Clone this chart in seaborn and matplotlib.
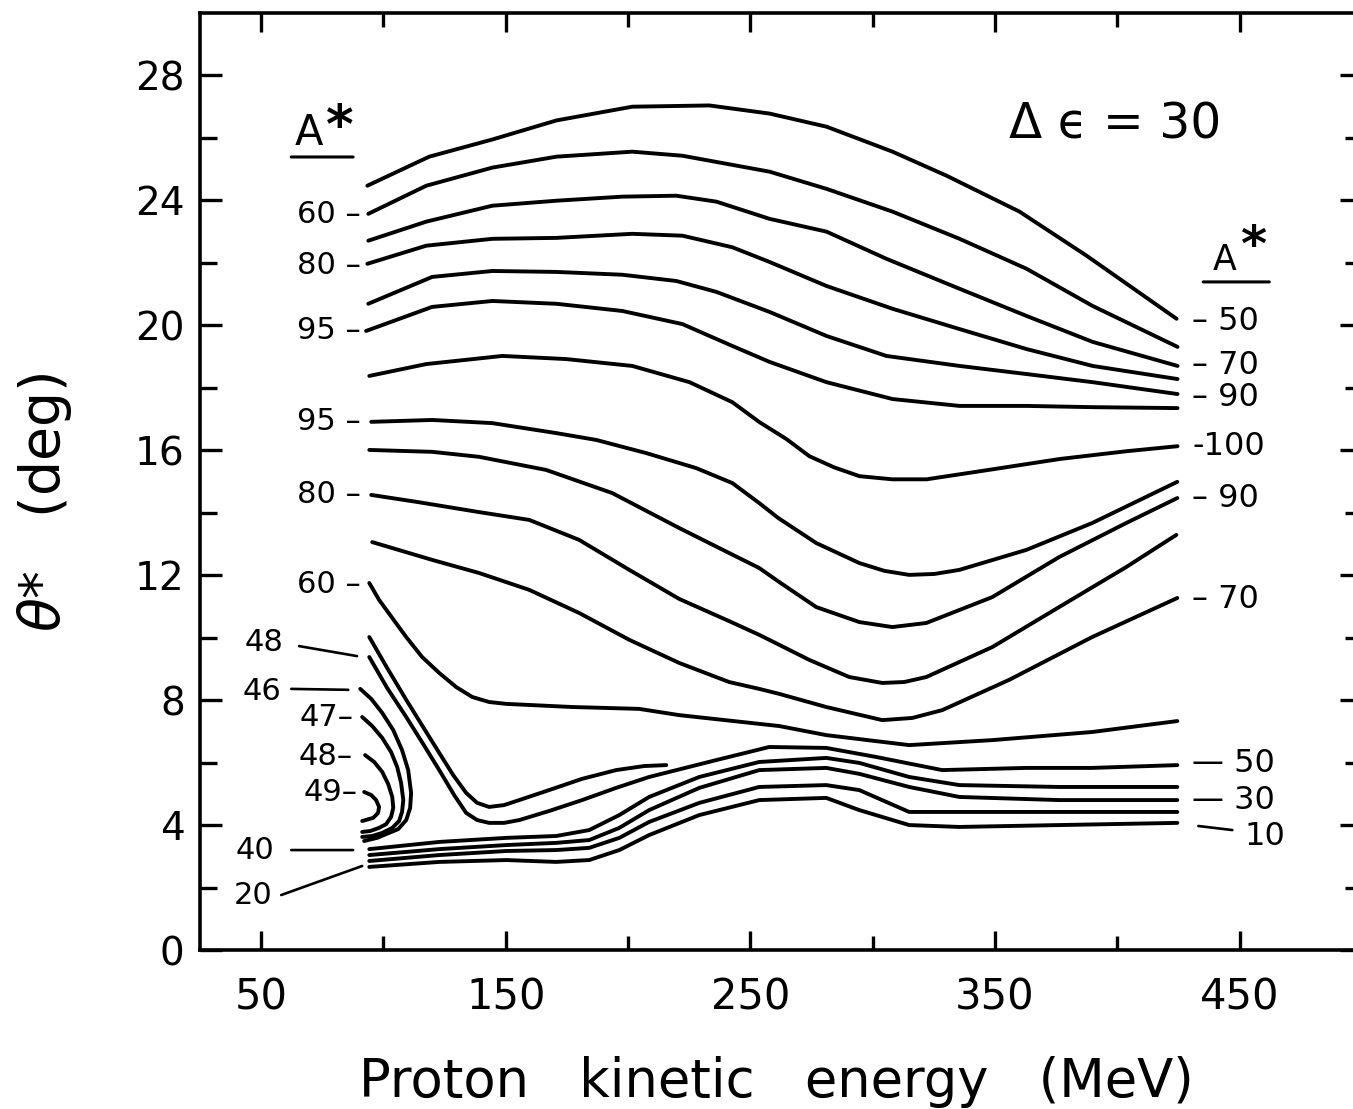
import matplotlib
matplotlib.use("Agg")
import matplotlib.pyplot as plt
import pandas as pd
import seaborn as sns

# A* contours, energy in MeV, theta* in deg
# upper family, top to bottom at the left edge
u01_e = [93.4, 118.7, 144.5, 170.7, 201.7, 233.2, 257.8, 281.1, 308.1, 330.2, 360.0, 387.4, 424.2]
u01_t = [24.47, 25.40, 25.95, 26.56, 27.00, 27.04, 26.78, 26.36, 25.56, 24.79, 23.64, 22.23, 20.21]

u02_e = [93.8, 117.5, 144.5, 170.7, 201.7, 222.2, 257.8, 281.1, 308.1, 335.5, 362.9, 389.9, 424.6]
u02_t = [23.57, 24.47, 25.05, 25.40, 25.56, 25.43, 24.92, 24.37, 23.64, 22.77, 21.81, 20.62, 19.31]

u03_e = [93.8, 117.5, 144.5, 170.7, 197.6, 219.7, 236.1, 257.8, 281.1, 305.6, 335.5, 362.9, 389.9, 424.6]
u03_t = [22.71, 23.32, 23.83, 23.99, 24.12, 24.15, 23.96, 23.41, 23.00, 22.13, 21.17, 20.30, 19.47, 18.70]

u04_e = [93.4, 117.5, 144.5, 170.7, 201.7, 222.2, 242.6, 257.8, 281.1, 308.1, 335.5, 362.9, 389.9, 424.6]
u04_t = [21.97, 22.55, 22.77, 22.80, 22.93, 22.87, 22.50, 22.03, 21.26, 20.53, 19.88, 19.24, 18.70, 18.28]

u05_e = [93.8, 119.9, 144.5, 170.7, 197.6, 219.7, 236.1, 257.8, 281.1, 305.6, 335.5, 362.9, 389.9, 424.6]
u05_t = [20.69, 21.55, 21.74, 21.71, 21.62, 21.42, 21.07, 20.43, 19.66, 19.02, 18.70, 18.44, 18.18, 17.80]

u06_e = [92.9, 119.9, 144.5, 170.7, 197.6, 222.2, 242.6, 257.8, 281.1, 308.1, 335.5, 362.9, 389.9, 424.6]
u06_t = [19.82, 20.59, 20.78, 20.69, 20.46, 20.04, 19.34, 18.83, 18.18, 17.64, 17.42, 17.42, 17.38, 17.35]

u07_e = [94.2, 117.5, 148.6, 174.7, 201.7, 225.1, 242.6, 253.7, 264.7, 274.1, 284.3, 294.6, 308.0, 322.0, 349.0, 376.4, 403.8, 424.6]
u07_t = [18.38, 18.76, 19.02, 18.92, 18.70, 18.18, 17.54, 16.90, 16.36, 15.81, 15.45, 15.17, 15.07, 15.07, 15.39, 15.72, 15.97, 16.13]

u08_e = [95.0, 119.9, 144.4, 170.6, 187.0, 207.4, 227.8, 242.6, 253.6, 261.4, 276.9, 294.5, 304.7, 314.9, 325.2, 335.4, 362.8, 389.7, 424.5]
u08_t = [16.91, 16.97, 16.87, 16.55, 16.33, 15.91, 15.43, 14.95, 14.31, 13.83, 13.03, 12.39, 12.14, 12.01, 12.04, 12.17, 12.81, 13.67, 14.99]

u09_e = [94.2, 119.9, 139.1, 166.5, 193.5, 220.9, 241.3, 253.6, 261.8, 276.9, 294.5, 308.0, 321.9, 348.9, 376.2, 403.6, 424.5]
u09_t = [16.01, 15.95, 15.79, 15.37, 14.63, 13.51, 12.71, 12.23, 11.78, 10.98, 10.50, 10.34, 10.47, 11.30, 12.58, 13.67, 14.47]

u10_e = [95.0, 113.4, 139.1, 159.6, 180.0, 200.5, 220.9, 241.3, 253.6, 261.8, 274.0, 290.4, 303.9, 312.9, 321.9, 348.9, 376.2, 403.6, 424.1]
u10_t = [14.57, 14.35, 14.02, 13.77, 13.13, 12.17, 11.24, 10.53, 10.09, 9.77, 9.29, 8.74, 8.55, 8.58, 8.74, 9.70, 10.98, 12.26, 13.29]

u11_e = [95.4, 119.9, 139.1, 159.6, 180.0, 200.5, 220.9, 241.3, 253.6, 261.8, 281.0, 303.9, 316.2, 328.4, 355.8, 389.7, 424.5]
u11_t = [13.06, 12.49, 12.07, 11.53, 10.79, 9.93, 9.19, 8.58, 8.36, 8.20, 7.78, 7.36, 7.43, 7.68, 8.65, 10.02, 11.27]

u12_e = [94.2, 98.2, 103.6, 109.3, 115.8, 122.8, 129.7, 136.3, 143.2, 150.2, 177.1, 204.5, 220.9, 261.8, 281.0, 314.9, 348.9, 389.7, 424.5]
u12_t = [11.75, 11.21, 10.63, 10.02, 9.38, 8.87, 8.42, 8.10, 7.94, 7.88, 7.78, 7.72, 7.52, 7.17, 6.88, 6.56, 6.72, 6.98, 7.33]

# the two "48" branches that dive down and turn
v1_e = [94.2, 101.5, 109.3, 116.2, 122.8, 128.5, 133.8, 138.3, 143.2, 149.3, 155.5, 167.7, 181.2, 195.1, 206.6, 215.6]
v1_t = [10.02, 9.03, 8.01, 7.14, 6.31, 5.60, 5.03, 4.71, 4.58, 4.64, 4.80, 5.12, 5.48, 5.76, 5.89, 5.92]

v2_e = [94.2, 101.5, 109.3, 116.2, 122.8, 128.9, 133.8, 138.3, 143.2, 149.3, 155.5, 167.7, 181.2, 195.1, 208.6,
        236.0, 257.7, 281.0, 301.4, 328.4, 362.8, 389.7, 424.5]
v2_t = [9.38, 8.39, 7.46, 6.60, 5.76, 4.96, 4.39, 4.16, 4.07, 4.07, 4.16, 4.45, 4.80, 5.19, 5.54,
        6.08, 6.50, 6.47, 6.18, 5.76, 5.83, 5.83, 5.92]

# loops at low energy (46, 47, 48, 49)
c46_e = [90.5, 95.0, 99.5, 104.0, 107.6, 110.1, 111.3, 110.9, 109.3, 106.0, 102.3, 97.4, 92.1]
c46_t = [8.36, 8.04, 7.59, 7.04, 6.40, 5.76, 5.03, 4.55, 4.16, 3.87, 3.75, 3.59, 3.49]
c47_e = [91.3, 95.4, 99.5, 103.1, 105.6, 107.2, 108.1, 107.6, 106.4, 103.6, 99.5, 95.4, 91.3]
c47_t = [7.46, 7.17, 6.79, 6.34, 5.86, 5.35, 4.80, 4.42, 4.13, 3.91, 3.75, 3.65, 3.62]
c48_e = [92.5, 96.2, 99.5, 101.9, 103.6, 104.0, 103.1, 101.1, 98.2, 94.6, 91.3]
c48_t = [6.24, 6.02, 5.70, 5.32, 4.90, 4.55, 4.26, 4.03, 3.91, 3.81, 3.78]
c49_e = [92.1, 95.0, 97.0, 98.2, 97.8, 95.8, 91.3]
c49_t = [5.06, 4.96, 4.80, 4.58, 4.39, 4.23, 4.13]

# bottom bundle (40 ... 10)
b_e = [94.2, 122.8, 150.2, 170.6, 184.1, 196.4, 208.6, 229.1, 253.6, 281.0, 294.5, 314.9, 335.4, 376.2, 424.5]
b1_t = [3.23, 3.46, 3.59, 3.65, 3.84, 4.32, 4.90, 5.54, 6.02, 6.15, 5.99, 5.54, 5.28, 5.22, 5.22]
b2_t = [3.04, 3.23, 3.36, 3.43, 3.52, 3.91, 4.48, 5.19, 5.76, 5.83, 5.64, 5.22, 4.90, 4.80, 4.80]
b3_t = [2.85, 3.04, 3.17, 3.20, 3.27, 3.59, 4.10, 4.71, 5.22, 5.28, 5.12, 4.42, 4.42, 4.42, 4.42]
b4_t = [2.66, 2.82, 2.88, 2.82, 2.88, 3.20, 3.68, 4.32, 4.80, 4.87, 4.48, 4.00, 3.94, 4.00, 4.07]

x_major = [50, 150, 250, 350, 450]
x_minor = [100, 200, 300, 400]
y_major = [0, 4, 8, 12, 16, 20, 24, 28]
y_minor = [2, 6, 10, 14, 18, 22, 26]

left_labels = ["60 \u2013", "80 \u2013", "95 \u2013", "95 \u2013", "80 \u2013", "60 \u2013"]
left_label_t = [23.54, 21.90, 19.85, 16.91, 14.57, 11.69]
loop_labels = ["47\u2013", "48\u2013", "49\u2013"]
loop_label_t = [7.43, 6.18, 5.03]
right_labels = ["\u2013 50", "\u2013 70", "\u2013 90", "-100", "\u2013 90", "\u2013 70", "\u2014 50", "\u2014 30"]
right_label_t = [20.11, 18.70, 17.68, 16.11, 14.47, 11.21, 5.96, 4.80]


def main() -> None:
    sns.set_style("ticks")
    plt.rcParams["font.family"] = ["DejaVu Sans"]
    plt.rcParams["mathtext.fontset"] = "dejavusans"
    plt.rcParams["lines.solid_capstyle"] = "round"
    plt.rcParams["lines.solid_joinstyle"] = "round"
    for key in ("text.color", "axes.labelcolor", "xtick.color", "ytick.color"):
        plt.rcParams[key] = "black"

    curves = {
        "u01": (u01_e, u01_t), "u02": (u02_e, u02_t), "u03": (u03_e, u03_t),
        "u04": (u04_e, u04_t), "u05": (u05_e, u05_t), "u06": (u06_e, u06_t),
        "u07": (u07_e, u07_t), "u08": (u08_e, u08_t), "u09": (u09_e, u09_t),
        "u10": (u10_e, u10_t), "u11": (u11_e, u11_t), "u12": (u12_e, u12_t),
        "v1": (v1_e, v1_t), "v2": (v2_e, v2_t),
        "c46": (c46_e, c46_t), "c47": (c47_e, c47_t), "c48": (c48_e, c48_t), "c49": (c49_e, c49_t),
        "b1": (b_e, b1_t), "b2": (b_e, b2_t), "b3": (b_e, b3_t), "b4": (b_e, b4_t),
    }
    df = pd.concat(
        [pd.DataFrame({"energy": e, "theta": t, "curve": k}) for k, (e, t) in curves.items()],
        ignore_index=True,
    )

    fig = plt.figure(figsize=(13.53, 11.09), dpi=100)
    ax = fig.add_axes([200 / 1353, 159 / 1109, 1162 / 1353, 937 / 1109])

    sns.lineplot(data=df, x="energy", y="theta", units="curve", estimator=None, sort=False,
                 color="black", linewidth=2.8, legend=False, ax=ax)

    ax.set_xlim(25, 500)
    ax.set_ylim(0, 30)
    ax.set_xticks(x_major)
    ax.set_xticks(x_minor, minor=True)
    ax.set_yticks(y_major)
    ax.set_yticks(y_minor, minor=True)
    ax.set_xticklabels([str(v) for v in x_major])
    ax.set_yticklabels([str(v) for v in y_major])
    ax.set_xlabel("")
    ax.set_ylabel("")

    for s in ax.spines.values():
        s.set_linewidth(2.6)
        s.set_color("black")
    ax.tick_params(which="both", direction="in", top=True, right=True, width=2.4,
                   color="black", labelcolor="black")
    ax.xaxis.set_tick_params(which="major", length=14, pad=19, labelsize=30)
    ax.xaxis.set_tick_params(which="minor", length=10)
    ax.yaxis.set_tick_params(which="major", length=16, pad=11, labelsize=28)
    ax.yaxis.set_tick_params(which="minor", length=12)

    lab = dict(fontsize=22, color="black", va="center")
    for txt, t in zip(left_labels, left_label_t):
        ax.text(90.9, t, txt, ha="right", **lab)
    for txt, t in zip(loop_labels, loop_label_t):
        ax.text(87.6 if txt != "49\u2013" else 89.4, t, txt, ha="right", **lab)
    for txt, t in zip(right_labels, right_label_t):
        ax.text(430.6, t, txt, ha="left", fontsize=23, color="black", va="center")

    # labels with leader lines at the lower left and lower right
    lead = dict(arrowstyle="-", lw=1.9, color="black", shrinkA=0, shrinkB=0)
    ax.text(51.2, 9.83, "48", ha="center", **lab)
    ax.annotate("", xy=(89.2, 9.41), xytext=(65.5, 9.73), arrowprops=lead)
    ax.text(50.4, 8.29, "46", ha="center", **lab)
    ax.annotate("", xy=(85.6, 8.33), xytext=(62.3, 8.36), arrowprops=lead)
    ax.text(47.5, 3.20, "40", ha="center", **lab)
    ax.annotate("", xy=(87.6, 3.20), xytext=(62.3, 3.20), arrowprops=lead)
    ax.text(46.7, 1.76, "20", ha="center", **lab)
    ax.annotate("", xy=(91.3, 2.69), xytext=(58.2, 1.76), arrowprops=lead)
    ax.text(451.9, 3.62, "10", ha="left", fontsize=23, color="black", va="center")
    ax.annotate("", xy=(447.0, 3.84), xytext=(433.1, 3.97), arrowprops=lead)

    # A* headers
    ax.text(69.6, 25.78, "A", ha="center", va="baseline", fontsize=30, color="black")
    ax.text(82.3, 25.85, "*", ha="center", va="baseline", fontsize=38, fontweight="bold", color="black")
    ax.annotate("", xy=(87.6, 25.39), xytext=(62.3, 25.39),
                arrowprops=dict(arrowstyle="-", lw=2.2, color="black", shrinkA=0, shrinkB=0))
    ax.text(443.7, 21.77, "A", ha="center", va="baseline", fontsize=25, color="black")
    ax.text(455.3, 22.05, "*", ha="center", va="baseline", fontsize=36, fontweight="bold", color="black")
    ax.annotate("", xy=(462.1, 21.39), xytext=(435.1, 21.39),
                arrowprops=dict(arrowstyle="-", lw=2.2, color="black", shrinkA=0, shrinkB=0))

    ax.text(399.1, 26.42, "\u0394 \u03f5 = 30", ha="center", va="center", fontsize=35, color="black")

    fig.text(776 / 1353, 1 - 1097 / 1109, "Proton   kinetic   energy   (MeV)",
             ha="center", va="baseline", fontsize=38, color="black")
    fig.text(45 / 1353, 1 - 502 / 1109, r"$\theta$*   (deg)", rotation=90,
             ha="center", va="center", fontsize=40, color="black")

    fig.savefig("out.png", dpi=100, facecolor="white")
    plt.close(fig)


if __name__ == "__main__":
    main()
